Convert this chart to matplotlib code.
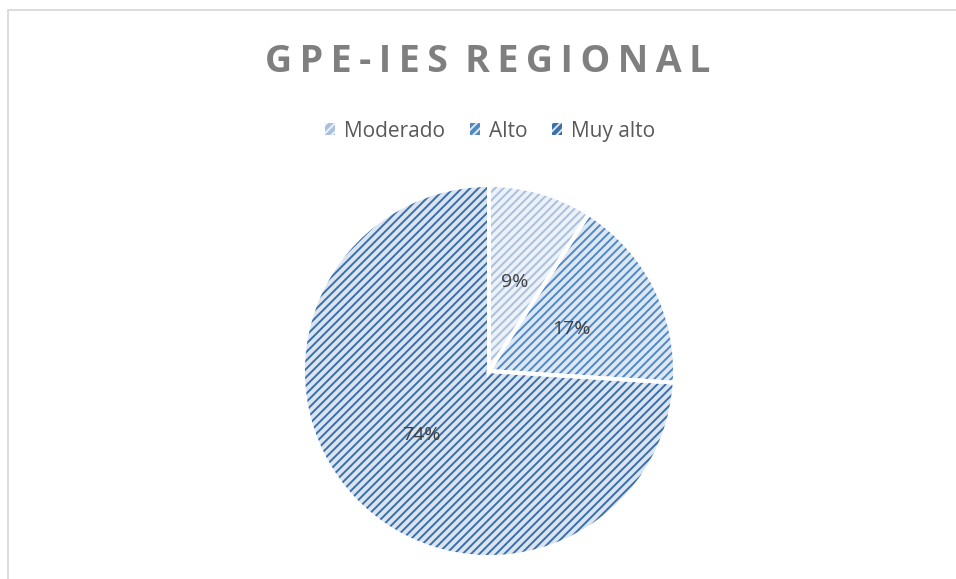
import matplotlib.pyplot as plt
from matplotlib.patches import Rectangle, Patch

plt.rcParams['font.family'] = ['Open Sans', 'DejaVu Sans']
plt.rcParams['hatch.linewidth'] = 1.4

# Datos
categorias = ["Moderado", "Alto", "Muy alto"]
porcentajes = [9, 17, 74]

fondos = ["#edf2f9", "#dde8f4", "#dae5f1"]
rayas = ["#a9c0de", "#5089c4", "#3b6fa8"]

fig = plt.figure(figsize=(9.56, 5.79), dpi=100)
W, H = 956, 579

# Marco gris del grafico
fig.add_artist(Rectangle((8 / W, -0.1), 1.2, (579 - 10) / H + 0.1,
                         transform=fig.transFigure, fill=False,
                         edgecolor="#d9d9d9", linewidth=1.3))

cx, cy, r = 489, 371, 186
ax = fig.add_axes([(cx - r) / W, (H - cy - r) / H, 2 * r / W, 2 * r / H])

# Primero relleno con rayas, luego los bordes blancos encima
wedges, textos, autotextos = ax.pie(
    porcentajes, startangle=90, counterclock=False,
    colors=fondos, autopct=lambda p: f"{p:.0f}%", pctdistance=0.5,
    wedgeprops=dict(linewidth=0),
    textprops=dict(color="#404040", fontsize=14))
for w, c in zip(wedges, rayas):
    w.set_hatch("////")
    w.set_edgecolor(c)

bordes, _ = ax.pie(porcentajes, startangle=90, counterclock=False,
                   wedgeprops=dict(fill=False, edgecolor="white", linewidth=2.8))
ax.set_xlim(-1, 1)
ax.set_ylim(-1, 1)
ax.set_aspect("equal")
ax.axis("off")

# Titulo con letras algo separadas
titulo = "\u2009 ".join("\u2009".join(p) for p in "GPE-IES REGIONAL".split())
fig.text(488 / W, 1 - 62 / H, titulo,
         ha="center", va="center", fontsize=27, fontweight="bold", color="#7f7f7f")

manijas = [Patch(facecolor=c, edgecolor=f, hatch="////", linewidth=0)
           for f, c in zip(fondos, rayas)]
fig.legend(manijas, categorias, loc="center", bbox_to_anchor=(490 / W, 1 - 131 / H),
           ncol=3, frameon=False, fontsize=15, labelcolor="#595959",
           handlelength=0.5, handleheight=0.5, handletextpad=0.4, columnspacing=1.2)

fig.savefig("out.png", dpi=100, facecolor="white")
